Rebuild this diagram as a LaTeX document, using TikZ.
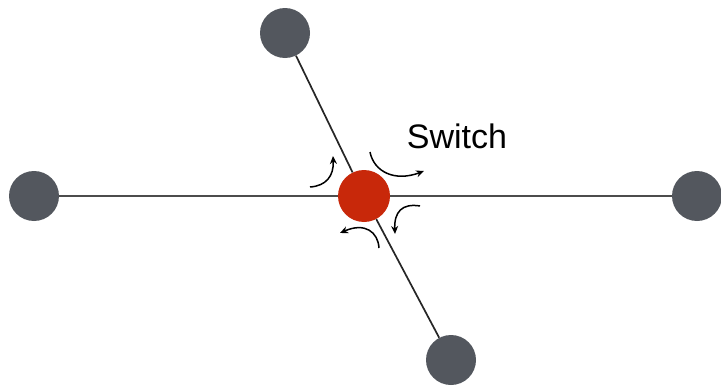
\documentclass[tikz,border=0pt]{standalone}
\usepackage{fontspec}
\setmainfont{Liberation Sans}
\usetikzlibrary{arrows.meta}
\definecolor{nodegray}{RGB}{83,87,94}
\definecolor{switchred}{RGB}{200,40,10}
\begin{document}
\begin{tikzpicture}[x=1pt,y=-1pt,
  host/.style={circle,fill=nodegray,minimum size=50pt,inner sep=0pt},
  sw/.style={circle,fill=switchred,minimum size=52pt,inner sep=0pt},
  link/.style={line width=1.7pt,draw=black!85},
  flow/.style={line width=1.5pt,-{Stealth[length=8pt,width=7pt]}}]
\useasboundingbox (0,0) rectangle (721,388);
\node[host] (T) at (285,33) {};
\node[host] (L) at (34,196) {};
\node[host] (R) at (697,196) {};
\node[host] (B) at (451,360) {};
\node[sw] (C) at (364,196) {};
\draw[link,draw=black!70,line width=2pt] (L) -- (C);
\draw[link,draw=black!70,line width=2pt] (C) -- (R);
\draw[link] (T) -- (C);
\draw[link] (C) -- (B);
\node[font=\fontsize{34}{40}\selectfont] (S) at (457,136) {Switch};
\coordinate (a1s) at (310,187);
\coordinate (a1e) at (333,156);
\coordinate (a2s) at (370,152);
\coordinate (a2e) at (424,171);
\coordinate (a3s) at (420,206);
\coordinate (a3e) at (395,234);
\coordinate (a4s) at (379,248);
\coordinate (a4e) at (340,233);
\draw[flow] (a1s) .. controls (326,186) and (334,176) .. (a1e);
\draw[flow] (a2s) .. controls (374,172) and (395,182) .. (a2e);
\draw[flow] (a3s) .. controls (402,203) and (394,212) .. (a3e);
\draw[flow] (a4s) .. controls (378,232) and (365,222) .. (a4e);
\end{tikzpicture}
\end{document}
